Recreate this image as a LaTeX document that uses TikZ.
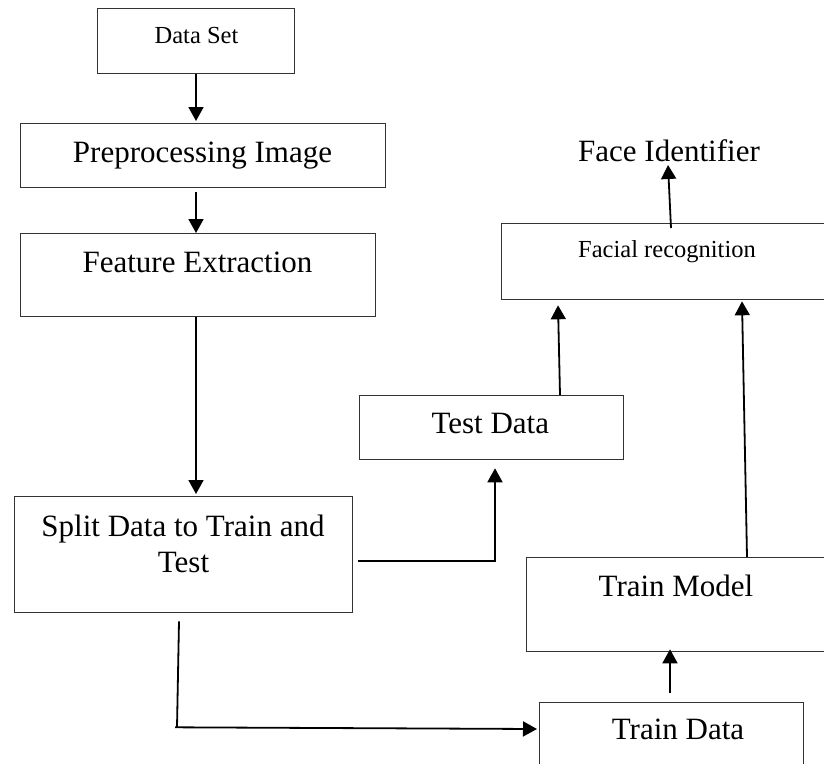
\documentclass[tikz,border=0pt]{standalone}
\usepackage{fontspec}
\setmainfont{Liberation Serif}
\usetikzlibrary{arrows.meta,calc}
\begin{document}
\begin{tikzpicture}[x=1pt,y=-1pt,
  box/.style={draw=black!80, line width=1.3pt, rectangle, inner sep=0pt, anchor=north west},
  big/.style={font=\fontsize{31}{36}\selectfont, inner sep=0pt, anchor=base},
  small/.style={font=\fontsize{24.5}{29}\selectfont, inner sep=0pt, anchor=base},
  arr/.style={line width=1.8pt, -{Triangle[width=15pt,length=14pt]}},
  ln/.style={line width=1.8pt}]
\useasboundingbox (0,0) rectangle (824,763);
\clip (0,0) rectangle (824,763);
% boxes
\node[box, minimum width=197pt, minimum height=65pt] (ds) at (97,8) {};
\node[box, minimum width=365pt, minimum height=64pt] (pp) at (20,123) {};
\node[box, minimum width=355pt, minimum height=83pt] (fe) at (20,233) {};
\node[box, minimum width=338pt, minimum height=116pt] (sp) at (14,496) {};
\node[box, minimum width=264pt, minimum height=64pt] (td) at (359,395) {};
\node[box, minimum width=329pt, minimum height=76pt] (fr) at (501,223) {};
\node[box, minimum width=304pt, minimum height=94pt] (tm) at (526,557) {};
\node[box, minimum width=264pt, minimum height=73pt] (trd) at (539,702) {};
% texts
\node[small] (dst) at (196.5,43) {Data Set};
\node[big] (ppt) at (202.5,162) {Preprocessing Image};
\node[big] (fet) at (197.5,272) {Feature Extraction};
\node[big] (spt1) at (183,536) {Split Data to Train and};
\node[big] (spt2) at (183.5,572) {Test};
\node[big] (tdt) at (490.3,433) {Test Data};
\node[small] (frt) at (667,257) {Facial recognition};
\node[big] (fi) at (669,161) {Face Identifier};
\node[big] (tmt) at (676,596) {Train Model};
\node[big] (trdt) at (678,739) {Train Data};
% connectors
\draw[arr] ($(ds.south west)+(99,0)$) -- ($(pp.north west)+(176,-2)$);
\draw[arr] ($(pp.south west)+(176,4)$) -- ($(fe.north west)+(176,0)$);
\draw[arr] ($(fe.south west)+(176,0)$) -- ($(sp.north west)+(182,-2)$);
\draw[arr] ($(sp.east)+(5,6)$) -| ($(td.south west)+(136,8)$);
\draw[arr] ($(td.north west)+(201,0)$) -- ($(fr.south west)+(57,5)$);
\draw[arr] ($(fr.north west)+(170,5)$) -- ($(fi.base)+(-1,4)$);
\draw[arr] ($(tm.north west)+(221,0)$) -- ($(fr.south west)+(241,1)$);
\draw[arr] ($(trd.north west)+(131,-9)$) -- ($(tm.south west)+(144,-3)$);
\draw[ln] ($(sp.south west)+(165,8)$) -- ($(sp.south west)+(163,114)$);
\draw[arr] ($(sp.south west)+(161,114)$) -- ($(trd.north west)+(-2,27)$);
\end{tikzpicture}
\end{document}
